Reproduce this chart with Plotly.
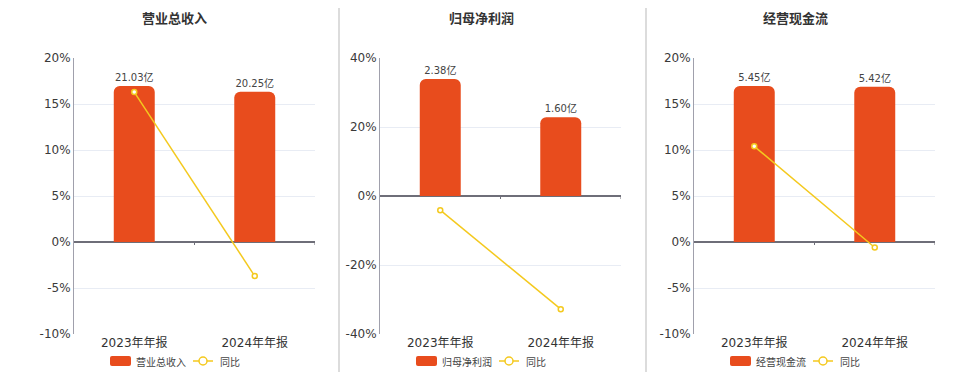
import plotly.graph_objects as go

# ---------------- data ----------------
categories = ["2023年年报", "2024年年报"]
titles = ["营业总收入", "归母净利润", "经营现金流"]
bar_names = ["营业总收入", "归母净利润", "经营现金流"]
revenue = [21.03, 20.25]
net_profit = [2.38, 1.60]
op_cashflow = [5.45, 5.42]
revenue_yoy = [16.3, -3.7]
net_profit_yoy = [-4.1, -32.8]
op_cashflow_yoy = [10.4, -0.6]
yoy_ticks = [
    [-10, -5, 0, 5, 10, 15, 20],
    [-40, -20, 0, 20, 40],
    [-10, -5, 0, 5, 10, 15, 20],
]
bar_series = [revenue, net_profit, op_cashflow]
yoy_series = [revenue_yoy, net_profit_yoy, op_cashflow_yoy]

# ---------------- style ----------------
W, H = 960, 372
BAR_COLOR = "#E84C1D"
LINE_COLOR = "#F4C91E"
GRID = "#E8ECF4"
TXT = "#333333"
FONT = "DejaVu Sans, Noto Sans CJK SC, sans-serif"
CJK = "Noto Sans CJK SC, sans-serif"
plot_left = [74, 380, 694]
plot_w = 241
plot_top, plot_bot = 58, 334
title_x = [174, 481, 795]
dividers = [339, 646]

def px(x):
    return x / W

def py(y):
    return 1 - y / H

fig = go.Figure()
layout = dict(
    width=W, height=H, margin=dict(l=0, r=0, t=0, b=0, autoexpand=False),
    paper_bgcolor="white", plot_bgcolor="white",
    showlegend=False, font=dict(family=FONT, color=TXT, size=12),
    shapes=[], annotations=[],
)

ydom = [py(plot_bot), py(plot_top)]
for i in range(3):
    n = i + 1
    xa = "x" if n == 1 else f"x{n}"
    yb = "y" if n == 1 else f"y{n}"          # bar axis (base, hidden)
    yp_n = n + 3                              # percentage axis (overlay)
    yp = f"y{yp_n}"
    xdom = [px(plot_left[i]), px(plot_left[i] + plot_w)]
    ticks = yoy_ticks[i]
    r0, r1 = ticks[0], ticks[-1]
    k = max(bar_series[i]) / (0.848 * r1)
    xkey = "xaxis" if n == 1 else f"xaxis{n}"
    ybkey = "yaxis" if n == 1 else f"yaxis{n}"
    layout[xkey] = dict(
        domain=xdom, anchor=yb, type="category", range=[-0.5, 1.5],
        showgrid=False, zeroline=False, showline=False, ticks="",
        tickfont=dict(size=12, color=TXT, family=FONT), fixedrange=True,
        automargin=False,
    )
    layout[ybkey] = dict(
        domain=ydom, anchor=xa, range=[r0 * k, r1 * k],
        showgrid=False, zeroline=False, showline=False, showticklabels=False,
        ticks="", fixedrange=True, automargin=False,
    )
    layout[f"yaxis{yp_n}"] = dict(
        domain=ydom, anchor=xa, overlaying=yb, side="left", range=[r0, r1],
        tickmode="array", tickvals=ticks, ticktext=[f"{t}%" for t in ticks],
        showgrid=True, gridcolor=GRID, gridwidth=1,
        zeroline=True, zerolinecolor="#6E6E78", zerolinewidth=1.5,
        showline=True, linecolor="#A0A0AC", linewidth=1, ticks="",
        tickfont=dict(size=12, color="#3A3A3A", family=FONT), fixedrange=True,
        automargin=False,
    )
    fig.add_trace(go.Bar(
        x=categories, y=bar_series[i], xaxis=xa, yaxis=yb, width=0.34,
        marker=dict(color=BAR_COLOR, cornerradius=6, line=dict(width=0)),
        text=[f"{v:.2f}亿" for v in bar_series[i]], textposition="outside",
        textfont=dict(size=10, color="#444444", family=FONT), cliponaxis=False,
        name=bar_names[i], hoverinfo="skip",
    ))
    fig.add_trace(go.Scatter(
        x=categories, y=yoy_series[i], xaxis=xa, yaxis=yp, mode="lines+markers",
        line=dict(color=LINE_COLOR, width=1.5),
        marker=dict(size=5, color="white", line=dict(color=LINE_COLOR, width=1.5)),
        cliponaxis=False, name="同比", hoverinfo="skip",
    ))
    # small ticks on the zero line at category boundaries
    tl = 3 * (r1 - r0) / (plot_bot - plot_top)
    for b in [0.5, 1.5]:
        layout["shapes"].append(dict(
            type="line", xref=xa, yref=yp, x0=b, x1=b, y0=0, y1=-tl,
            line=dict(color="#6E6E78", width=1), layer="above",
        ))
    # title
    layout["annotations"].append(dict(
        text=f"<b>{titles[i]}</b>", x=px(title_x[i]), y=py(18), xref="paper", yref="paper",
        showarrow=False, xanchor="center", yanchor="middle",
        font=dict(size=13, color=TXT, family=CJK),
    ))
    # manual legend
    L = plot_left[i]
    ly = 361
    layout["shapes"].append(dict(
        type="path", xref="paper", yref="paper",
        path=(f"M{px(L + 38)},{py(ly + 5)} L{px(L + 55)},{py(ly + 5)} "
              f"Q{px(L + 57)},{py(ly + 5)} {px(L + 57)},{py(ly + 3)} "
              f"L{px(L + 57)},{py(ly - 3)} Q{px(L + 57)},{py(ly - 5)} {px(L + 55)},{py(ly - 5)} "
              f"L{px(L + 38)},{py(ly - 5)} Q{px(L + 36)},{py(ly - 5)} {px(L + 36)},{py(ly - 3)} "
              f"L{px(L + 36)},{py(ly + 3)} Q{px(L + 36)},{py(ly + 5)} {px(L + 38)},{py(ly + 5)} Z"),
        fillcolor=BAR_COLOR, line=dict(width=0),
    ))
    layout["annotations"].append(dict(
        text=bar_names[i], x=px(L + 60), y=py(ly), xref="paper", yref="paper",
        showarrow=False, xanchor="left", yanchor="middle",
        font=dict(size=10, color="#444444", family=CJK),
    ))
    layout["shapes"].append(dict(
        type="line", xref="paper", yref="paper",
        x0=px(L + 119), x1=px(L + 139), y0=py(ly), y1=py(ly),
        line=dict(color=LINE_COLOR, width=1.5),
    ))
    layout["shapes"].append(dict(
        type="circle", xref="paper", yref="paper",
        x0=px(L + 125), x1=px(L + 133), y0=py(ly + 4), y1=py(ly - 4),
        fillcolor="white", line=dict(color=LINE_COLOR, width=1.5),
    ))
    layout["annotations"].append(dict(
        text="同比", x=px(L + 144), y=py(ly), xref="paper", yref="paper",
        showarrow=False, xanchor="left", yanchor="middle",
        font=dict(size=10, color="#444444", family=CJK),
    ))

for d in dividers:
    layout["shapes"].append(dict(
        type="line", xref="paper", yref="paper", x0=px(d), x1=px(d),
        y0=py(8), y1=0, line=dict(color="#D0D0D0", width=1.5),
    ))

fig.update_layout(**layout)
fig.write_html(
    "out.html",
    config={"displayModeBar": False},
    post_script="document.body.style.margin='0';document.body.style.overflow='hidden';",
)
